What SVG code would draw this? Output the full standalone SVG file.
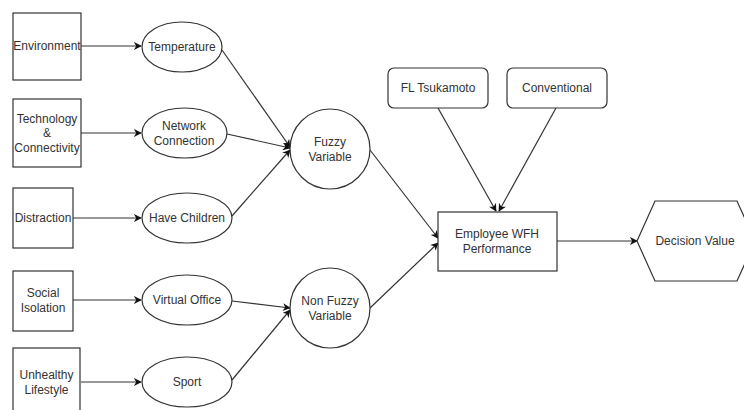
<svg xmlns="http://www.w3.org/2000/svg" width="744" height="410" viewBox="0 0 744 410">
<style>
.s{fill:#fff;stroke:#333;stroke-width:1.2}
.t{font-family:"Liberation Sans",Arial,sans-serif;font-size:12px;fill:#333;text-anchor:middle}
.c{fill:none;stroke:#333;stroke-width:1.2}
</style>
<defs>
<marker id="a" viewBox="0 0 10 10" refX="9" refY="5" markerWidth="8" markerHeight="8" markerUnits="userSpaceOnUse" orient="auto">
<path d="M0,0 L10,5 L0,10 L3,5 Z" fill="#111"/>
</marker>
</defs>
<rect width="744" height="410" fill="#fff"/>
<g id="connectors">
<line class="c" x1="81" y1="46" x2="141" y2="46" marker-end="url(#a)"/>
<line class="c" x1="81" y1="133" x2="141" y2="133" marker-end="url(#a)"/>
<line class="c" x1="73" y1="218" x2="141" y2="218" marker-end="url(#a)"/>
<line class="c" x1="73" y1="300" x2="141" y2="300" marker-end="url(#a)"/>
<line class="c" x1="81" y1="382" x2="141" y2="382" marker-end="url(#a)"/>
<line class="c" x1="222" y1="50" x2="290" y2="147" marker-end="url(#a)"/>
<line class="c" x1="227" y1="134" x2="290" y2="148" marker-end="url(#a)"/>
<line class="c" x1="232" y1="216" x2="290" y2="150" marker-end="url(#a)"/>
<line class="c" x1="232" y1="301" x2="290" y2="308" marker-end="url(#a)"/>
<line class="c" x1="232" y1="380" x2="290" y2="310" marker-end="url(#a)"/>
<line class="c" x1="370" y1="150" x2="438" y2="238" marker-end="url(#a)"/>
<line class="c" x1="370" y1="308" x2="438" y2="243" marker-end="url(#a)"/>
<line class="c" x1="438" y1="108" x2="496" y2="211" marker-end="url(#a)"/>
<line class="c" x1="556" y1="108" x2="499" y2="211" marker-end="url(#a)"/>
<line class="c" x1="557" y1="241" x2="637" y2="241" marker-end="url(#a)"/>
</g>
<g id="environment"><rect class="s" x="13" y="13" width="68" height="67"/><text class="t" x="47" y="50">Environment</text></g>
<g id="technology"><rect class="s" x="13" y="99" width="68" height="68"/><text class="t" x="47" y="123">Technology</text><text class="t" x="47" y="137">&amp;</text><text class="t" x="47" y="152">Connectivity</text></g>
<g id="distraction"><rect class="s" x="13" y="188" width="60" height="60"/><text class="t" x="43" y="222">Distraction</text></g>
<g id="social"><rect class="s" x="13" y="271" width="60" height="60"/><text class="t" x="43" y="297">Social</text><text class="t" x="43" y="312">Isolation</text></g>
<g id="unhealthy"><rect class="s" x="13" y="348" width="67" height="80"/><text class="t" x="46.5" y="379">Unhealthy</text><text class="t" x="46.5" y="394">Lifestyle</text></g>
<g id="temperature"><ellipse class="s" cx="182" cy="47" rx="40" ry="25"/><text class="t" x="182" y="51">Temperature</text></g>
<g id="network"><ellipse class="s" cx="184.5" cy="133" rx="42.5" ry="25"/><text class="t" x="184" y="130">Network</text><text class="t" x="184" y="145">Connection</text></g>
<g id="children"><ellipse class="s" cx="187" cy="218" rx="45" ry="25"/><text class="t" x="187" y="222">Have Children</text></g>
<g id="virtual"><ellipse class="s" cx="187" cy="300" rx="45" ry="25"/><text class="t" x="187" y="304">Virtual Office</text></g>
<g id="sport"><ellipse class="s" cx="187" cy="382" rx="45" ry="25"/><text class="t" x="187" y="386">Sport</text></g>
<g id="fuzzy"><circle class="s" cx="330" cy="149" r="40"/><text class="t" x="330" y="146">Fuzzy</text><text class="t" x="330" y="161">Variable</text></g>
<g id="nonfuzzy"><circle class="s" cx="330" cy="308" r="40"/><text class="t" x="330" y="305">Non Fuzzy</text><text class="t" x="330" y="320">Variable</text></g>
<g id="fl"><rect class="s" x="388" y="68" width="100" height="40" rx="6"/><text class="t" x="438" y="92">FL Tsukamoto</text></g>
<g id="conventional"><rect class="s" x="507" y="68" width="100" height="40" rx="6"/><text class="t" x="557" y="92">Conventional</text></g>
<g id="employee"><rect class="s" x="438" y="212" width="119" height="59"/><text class="t" x="497" y="238">Employee WFH</text><text class="t" x="497" y="253">Performance</text></g>
<g id="decision"><polygon class="s" points="637,241 655,201 737,201 755,241 737,281 655,281"/><text class="t" x="695" y="245">Decision Value</text></g>
</svg>
